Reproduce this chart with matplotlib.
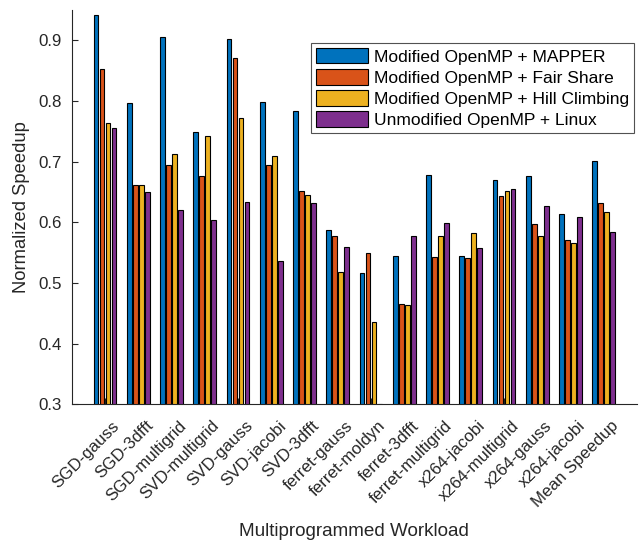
import numpy as np
import matplotlib
matplotlib.use("Agg")
import matplotlib.pyplot as plt
from matplotlib.transforms import ScaledTranslation

plt.rcParams['font.family'] = ['Liberation Sans', 'DejaVu Sans']

categories = ["SGD-gauss", "SGD-3dfft", "SGD-multigrid", "SVD-multigrid", "SVD-gauss",
              "SVD-jacobi", "SVD-3dfft", "ferret-gauss", "ferret-moldyn", "ferret-3dfft",
              "ferret-multigrid", "x264-jacobi", "x264-multigrid", "x264-gauss",
              "x264-jacobi", "Mean Speedup"]
series_names = ["Modified OpenMP + MAPPER", "Modified OpenMP + Fair Share",
                "Modified OpenMP + Hill Climbing", "Unmodified OpenMP + Linux"]
mapper = [0.941, 0.797, 0.906, 0.749, 0.902, 0.798, 0.783, 0.588, 0.516, 0.544,
          0.678, 0.545, 0.670, 0.676, 0.614, 0.701]
fair = [0.853, 0.662, 0.695, 0.677, 0.871, 0.694, 0.652, 0.578, 0.549, 0.465,
        0.543, 0.541, 0.643, 0.597, 0.570, 0.631]
hill = [0.764, 0.662, 0.713, 0.743, 0.772, 0.709, 0.645, 0.518, 0.436, 0.463,
        0.578, 0.583, 0.651, 0.578, 0.565, 0.617]
linux = [0.756, 0.650, 0.620, 0.603, 0.634, 0.536, 0.632, 0.560, 0.300, 0.578,
         0.599, 0.557, 0.655, 0.626, 0.609, 0.584]
colors = ["#0072BD", "#D95319", "#EDB120", "#7E2F8E"]

fig = plt.figure(figsize=(6.41, 5.44), dpi=100)
ax = fig.add_axes([0.112, 0.257, 0.8818, 0.7246])

x = np.arange(1, len(categories) + 1)
pitch = 0.18
width = 0.14
for i, (vals, c, name) in enumerate(zip([mapper, fair, hill, linux], colors, series_names)):
    ax.bar(x + (i - 1.5) * pitch, vals, width=width, color=c, edgecolor='black',
           linewidth=0.8, label=name, zorder=2)

ax.set_xlim(0, 17)
ax.set_ylim(0.3, 0.95)
ax.set_yticks([0.3, 0.4, 0.5, 0.6, 0.7, 0.8, 0.9])
ax.set_yticklabels(["0.3", "0.4", "0.5", "0.6", "0.7", "0.8", "0.9"])
ax.set_xticks(x)
ax.set_xticklabels(categories, rotation=45, ha='right', rotation_mode='anchor')
ax.tick_params(direction='in', length=4, colors='#262626', labelsize=12.2, width=0.8)
ax.tick_params(axis='x', pad=10)
ax.tick_params(axis='y', pad=7)
shift = ScaledTranslation(7 / 100, 0, fig.dpi_scale_trans)
for lab in ax.get_xticklabels():
    lab.set_transform(lab.get_transform() + shift)
for s in ['top', 'right']:
    ax.spines[s].set_visible(False)
for s in ['left', 'bottom']:
    ax.spines[s].set_color('#262626')
    ax.spines[s].set_linewidth(0.8)

ax.set_ylabel("Normalized Speedup", fontsize=13.2, color='#262626', labelpad=6)
ax.set_xlabel("Multiprogrammed Workload", fontsize=13.6, color='#262626', labelpad=9)

leg = ax.legend(loc='upper right', bbox_to_anchor=(634 / 641, 1 - 42.7 / 544),
                bbox_transform=fig.transFigure, fontsize=12.5,
                frameon=True, fancybox=False, edgecolor='#262626',
                handlelength=3.0, handleheight=1.0, labelspacing=0.25,
                borderpad=0.3, handletextpad=0.3, borderaxespad=0)
leg.get_frame().set_linewidth(0.8)

fig.savefig("out.png", dpi=100)
